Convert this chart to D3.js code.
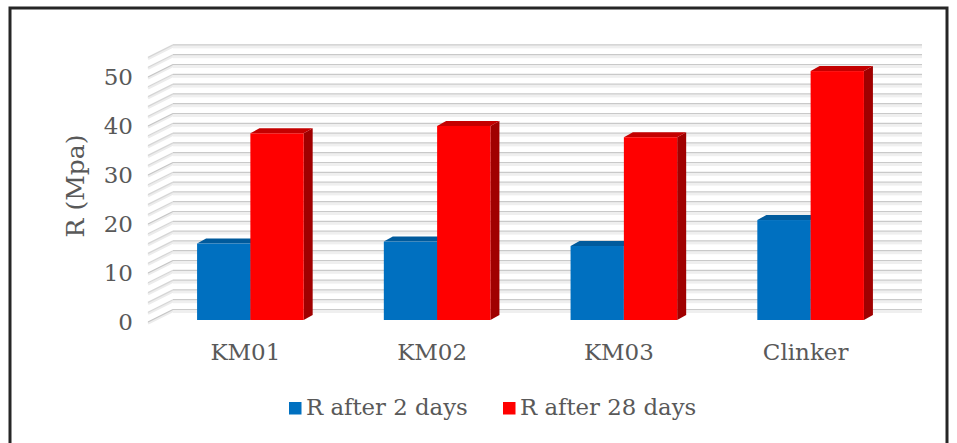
<!DOCTYPE html>
<html>
<head>
<meta charset="utf-8">
<script src="https://cdn.jsdelivr.net/npm/d3@7"></script>
<style>
  html, body { margin: 0; padding: 0; background: #fff; }
  svg { display: block; }
  text { font-family: "DejaVu Serif", "Liberation Serif", serif; fill: #595959; }
</style>
</head>
<body>
<svg id="chart" width="957" height="443"></svg>
<script>
// Compressive strength per sample
const categories = ["KM01", "KM02", "KM03", "Clinker"];
const r2days = [15.6, 16.0, 15.1, 20.4];
const r28days = [38.1, 39.6, 37.3, 50.8];
const seriesNames = ["R after 2 days", "R after 28 days"];
const yTicks = [0, 10, 20, 30, 40, 50];

const svg = d3.select("#chart");

// outer frame
svg.append("rect").attr("x", 10).attr("y", 8).attr("width", 937).attr("height", 445)
  .attr("fill", "none").attr("stroke", "#262626").attr("stroke-width", 3);

const yMax = 54;
// front edge of the side wall (tick labels sit here)
const yFront = d3.scaleLinear().domain([0, yMax]).range([322, 322 - 4.9 * yMax]);
// back wall
const wallDX = 25, wallDY = -12.5;
const xWallFront = 148, xWallBack = xWallFront + wallDX, xWallRight = 922;
const yBack = v => yFront(v) + wallDY;

// bars (front faces) scale
const yBar = d3.scaleLinear().domain([0, yMax]).range([320, 320 - 4.9 * yMax]);
const x0 = d3.scaleBand().domain(categories).range([157, 904]);
const barW = 53.3;
const barDX = 9, barDY = -5;

const grid = svg.append("g");
const gridVals = d3.range(0, yMax + 0.001, 2);
gridVals.forEach(v => {
  // side wall diagonal
  grid.append("line")
    .attr("x1", xWallFront).attr("y1", yFront(v) + 1.5)
    .attr("x2", xWallBack).attr("y2", yBack(v) + 1.5)
    .attr("stroke", "#ececec").attr("stroke-width", 2.5);
  grid.append("line")
    .attr("x1", xWallFront).attr("y1", yFront(v))
    .attr("x2", xWallBack).attr("y2", yBack(v))
    .attr("stroke", v % 10 === 0 ? "#c4c4c4" : "#d6d6d6").attr("stroke-width", 1.2);
  // back wall horizontal
  grid.append("rect")
    .attr("x", xWallBack).attr("y", yBack(v) + 0.5)
    .attr("width", xWallRight - xWallBack).attr("height", 3)
    .attr("fill", "#efefef");
  grid.append("line")
    .attr("x1", xWallBack).attr("y1", yBack(v))
    .attr("x2", xWallRight).attr("y2", yBack(v))
    .attr("stroke", "#c9c9c9").attr("stroke-width", 1.2);
});

// tick labels
svg.append("g").selectAll("text").data(yTicks).join("text")
  .attr("x", 133).attr("y", d => yFront(d))
  .attr("dy", "0.35em").attr("text-anchor", "end")
  .attr("font-size", 23).text(d => d);

// axis title
svg.append("text")
  .attr("transform", "translate(84,186) rotate(-90)")
  .attr("text-anchor", "middle").attr("font-size", 25)
  .text("R (Mpa)");

// bars
const series = [
  { values: r2days, front: "#0070C0", top: "#005a9c", side: "#004f8a", off: 0 },
  { values: r28days, front: "#FF0000", top: "#c40000", side: "#a00000", off: 1 }
];
const bars = svg.append("g");
series.forEach(s => {
  categories.forEach((c, i) => {
    const v = s.values[i];
    const x = x0(c) + x0.bandwidth() / 2 - barW + s.off * barW;
    const yt = yBar(v), yb = yBar(0);
    const g = bars.append("g");
    g.append("polygon")
      .attr("points", [[x + barW, yt], [x + barW + barDX, yt + barDY], [x + barW + barDX, yb + barDY], [x + barW, yb]].join(" "))
      .attr("fill", s.side);
    g.append("polygon")
      .attr("points", [[x, yt], [x + barDX, yt + barDY], [x + barW + barDX, yt + barDY], [x + barW, yt]].join(" "))
      .attr("fill", s.top);
    g.append("rect").attr("x", x).attr("y", yt).attr("width", barW).attr("height", yb - yt)
      .attr("fill", s.front);
  });
});

// category labels
svg.append("g").selectAll("text").data(categories).join("text")
  .attr("x", d => x0(d) + x0.bandwidth() / 2 - 5).attr("y", 360)
  .attr("text-anchor", "middle").attr("font-size", 23).text(d => d);

// legend
const legend = svg.append("g");
const legendItems = [
  { name: seriesNames[0], color: "#0070C0", x: 289 },
  { name: seriesNames[1], color: "#FF0000", x: 503 }
];
legendItems.forEach(it => {
  legend.append("rect").attr("x", it.x).attr("y", 402).attr("width", 12.5).attr("height", 12.5).attr("fill", it.color);
  legend.append("text").attr("x", it.x + 17).attr("y", 415).attr("font-size", 22.8).text(it.name);
});
</script>
</body>
</html>
